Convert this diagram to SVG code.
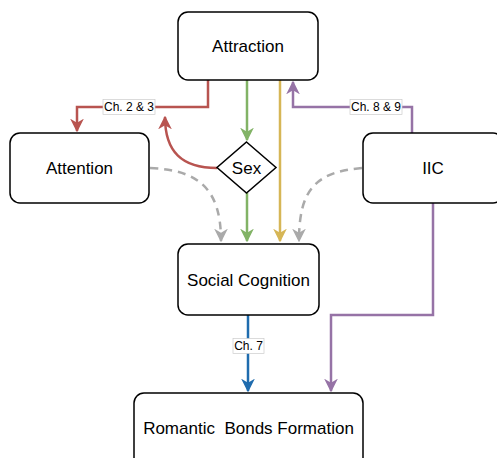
<svg xmlns="http://www.w3.org/2000/svg" width="497" height="458" viewBox="0 0 497 458">
<style>
.box{fill:#fff;stroke:#000;stroke-width:1.5}
.t{font-family:"Liberation Sans",Arial,sans-serif;font-size:17px;fill:#000;text-anchor:middle;dominant-baseline:central}
.lbl{font-family:"Liberation Sans",Arial,sans-serif;font-size:12px;fill:#000;text-anchor:middle;dominant-baseline:central}
.lb{fill:#fff;stroke:#ccc;stroke-width:0.7}
.c{fill:none;stroke-width:2.5}
</style>
<defs>
<marker id="ar" viewBox="0 0 10 10" refX="9" refY="5" markerWidth="5.5" markerHeight="5.5" orient="auto" markerUnits="strokeWidth"><path d="M0,0 L10,5 L0,10 L3,5 Z" fill="#b85450"/></marker>
<marker id="ag" viewBox="0 0 10 10" refX="9" refY="5" markerWidth="5.5" markerHeight="5.5" orient="auto" markerUnits="strokeWidth"><path d="M0,0 L10,5 L0,10 L3,5 Z" fill="#82b366"/></marker>
<marker id="ay" viewBox="0 0 10 10" refX="9" refY="5" markerWidth="5.5" markerHeight="5.5" orient="auto" markerUnits="strokeWidth"><path d="M0,0 L10,5 L0,10 L3,5 Z" fill="#d6b656"/></marker>
<marker id="ap" viewBox="0 0 10 10" refX="9" refY="5" markerWidth="5.5" markerHeight="5.5" orient="auto" markerUnits="strokeWidth"><path d="M0,0 L10,5 L0,10 L3,5 Z" fill="#9673a6"/></marker>
<marker id="ab" viewBox="0 0 10 10" refX="9" refY="5" markerWidth="5.5" markerHeight="5.5" orient="auto" markerUnits="strokeWidth"><path d="M0,0 L10,5 L0,10 L3,5 Z" fill="#1f6cae"/></marker>
<marker id="aa" viewBox="0 0 10 10" refX="9" refY="5" markerWidth="5.5" markerHeight="5.5" orient="auto" markerUnits="strokeWidth"><path d="M0,0 L10,5 L0,10 L3,5 Z" fill="#aaaaaa"/></marker>
</defs>
<g id="connectors">
<path class="c" stroke="#b85450" d="M208,80 V107 H77 V131" marker-end="url(#ar)"/>
<path class="c" stroke="#b85450" d="M217,168 C182,168 165,152 165,117" marker-end="url(#ar)"/>
<path class="c" stroke="#82b366" d="M247,80 V140" marker-end="url(#ag)"/>
<path class="c" stroke="#82b366" d="M247,193 V241" marker-end="url(#ag)"/>
<path class="c" stroke="#d6b656" d="M280,80 V241" marker-end="url(#ay)"/>
<path class="c" stroke="#9673a6" d="M412,133 V107 H293 V82" marker-end="url(#ap)"/>
<path class="c" stroke="#9673a6" d="M433,203 V315 H331 V391" marker-end="url(#ap)"/>
<path class="c" stroke="#1f6cae" d="M248,315 V391" marker-end="url(#ab)"/>
<path class="c" stroke="#aaaaaa" stroke-dasharray="8,6" d="M150,168 C200,170 221,190 221,241" marker-end="url(#aa)"/>
<path class="c" stroke="#aaaaaa" stroke-dasharray="8,6" d="M362,168 C315,172 299,190 299,241" marker-end="url(#aa)"/>
<rect class="lb" x="103" y="99.5" width="52" height="15"/>
<text class="lbl" x="129" y="107">Ch. 2 &amp; 3</text>
<rect class="lb" x="350" y="99.5" width="52" height="15"/>
<text class="lbl" x="376" y="107">Ch. 8 &amp; 9</text>
<rect class="lb" x="233" y="338.5" width="31" height="15"/>
<text class="lbl" x="248.5" y="346">Ch. 7</text>
</g>
<g id="attraction"><rect class="box" x="178" y="12" width="140" height="68" rx="10"/><text class="t" x="248" y="46">Attraction</text></g>
<g id="attention"><rect class="box" x="10" y="133" width="139" height="70" rx="10"/><text class="t" x="79.5" y="168">Attention</text></g>
<g id="iic"><rect class="box" x="363" y="133" width="140" height="70" rx="10"/><text class="t" x="433" y="168">IIC</text></g>
<g id="sex"><path class="box" d="M246.5,142 L276,167.5 L246.5,193 L217,167.5 Z"/><text class="t" x="246.5" y="168">Sex</text></g>
<g id="social-cognition"><rect class="box" x="178" y="244" width="141" height="71" rx="10"/><text class="t" x="248.5" y="280">Social Cognition</text></g>
<g id="romantic-bonds"><rect class="box" x="134" y="393" width="229" height="75" rx="10"/><text class="t" x="248.5" y="428">Romantic&#160; Bonds Formation</text></g>
</svg>
